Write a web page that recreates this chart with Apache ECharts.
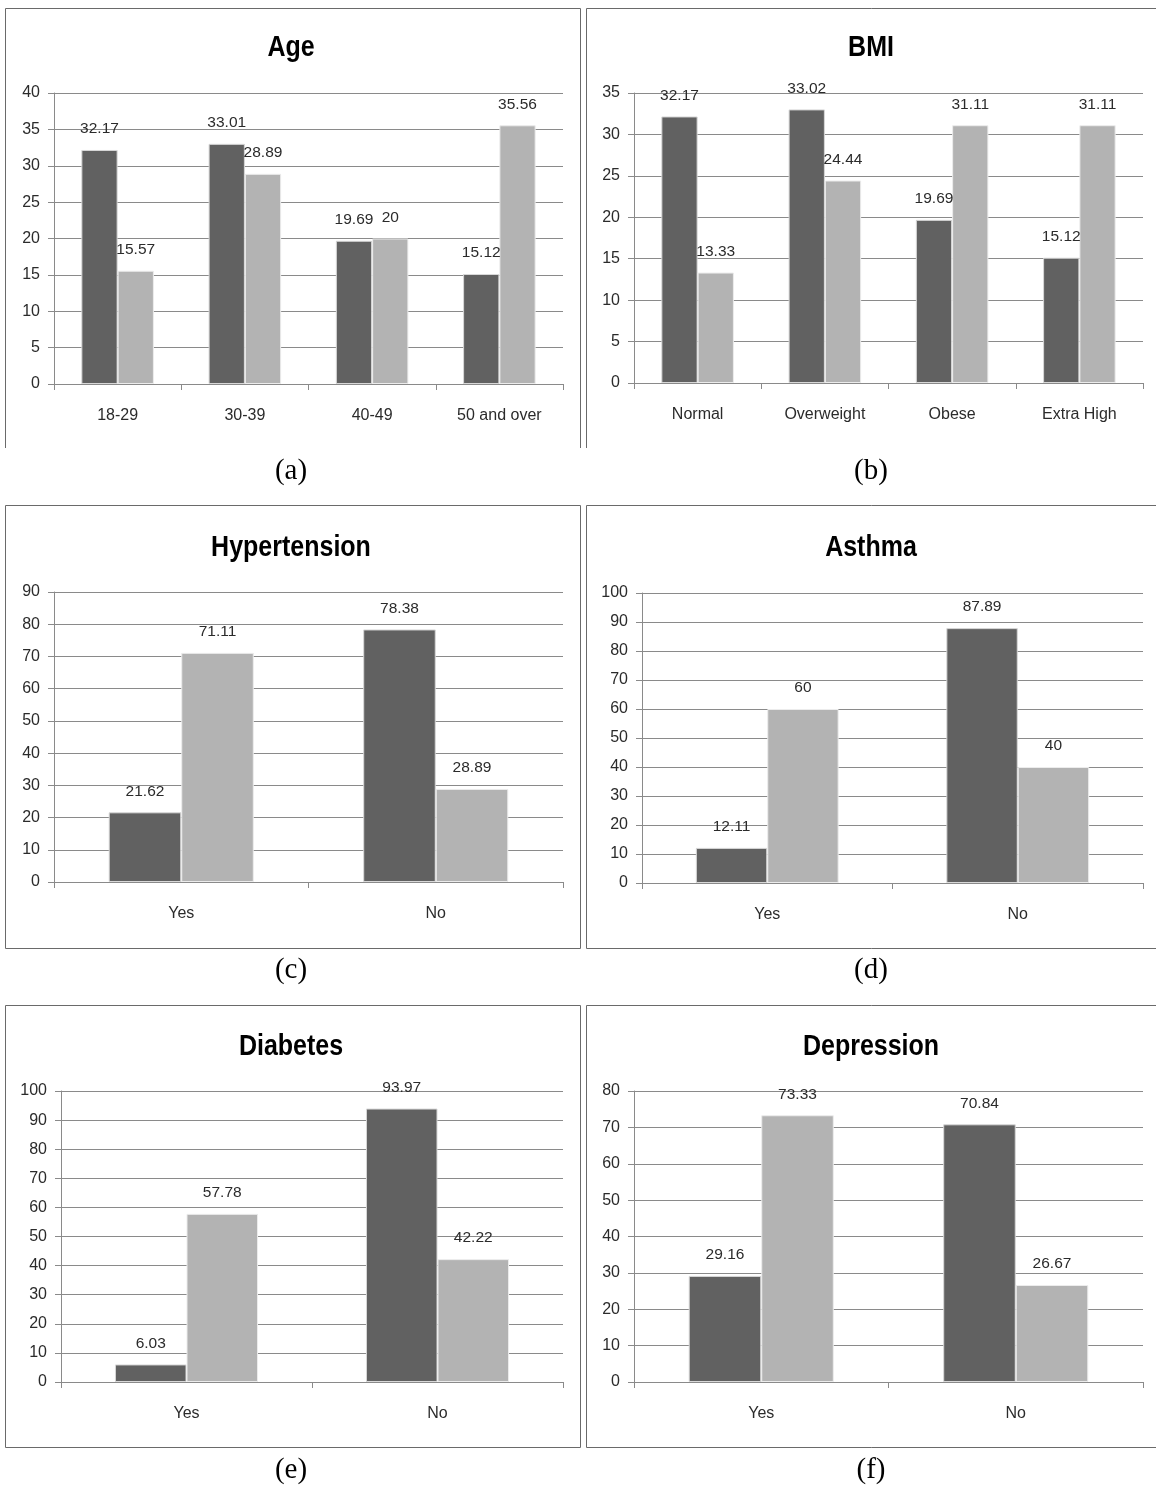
<!DOCTYPE html>
<html>
<head>
<meta charset="utf-8">
<script src="https://cdn.jsdelivr.net/npm/echarts@6/dist/echarts.min.js"></script>
<style>
  html, body { margin: 0; padding: 0; background: #fff; }
  #chart { width: 1156px; height: 1485px; }
</style>
</head>
<body>
<div id="chart"></div>
<script>
// ---- data ----
const ageCats = ['18-29', '30-39', '40-49', '50 and over'];
const ageDark = [32.17, 33.01, 19.69, 15.12];
const ageLight = [15.57, 28.89, 20, 35.56];

const bmiCats = ['Normal', 'Overweight', 'Obese', 'Extra High'];
const bmiDark = [32.17, 33.02, 19.69, 15.12];
const bmiLight = [13.33, 24.44, 31.11, 31.11];

const ynCats = ['Yes', 'No'];
const hyperDark = [21.62, 78.38];
const hyperLight = [71.11, 28.89];
const asthmaDark = [12.11, 87.89];
const asthmaLight = [60, 40];
const diabDark = [6.03, 93.97];
const diabLight = [57.78, 42.22];
const depDark = [29.16, 70.84];
const depLight = [73.33, 26.67];

const titles = ['Age', 'BMI', 'Hypertension', 'Asthma', 'Diabetes', 'Depression'];
const captions = ['(a)', '(b)', '(c)', '(d)', '(e)', '(f)'];
const yMax = [40, 35, 90, 100, 100, 80];
const yStep = [5, 5, 10, 10, 10, 10];

// ---- layout ----
const panels = [
  { cats: ageCats, dark: ageDark, light: ageLight, grid: { left: 54, top: 93, width: 509, height: 291 }, cx: 291, ty: 48, cy: 471 },
  { cats: bmiCats, dark: bmiDark, light: bmiLight, grid: { left: 634, top: 93, width: 509, height: 290 }, cx: 871, ty: 48, cy: 471 },
  { cats: ynCats, dark: hyperDark, light: hyperLight, grid: { left: 54, top: 592, width: 509, height: 290 }, cx: 291, ty: 548, cy: 970 },
  { cats: ynCats, dark: asthmaDark, light: asthmaLight, grid: { left: 642, top: 593, width: 501, height: 290 }, cx: 871, ty: 548, cy: 970 },
  { cats: ynCats, dark: diabDark, light: diabLight, grid: { left: 61, top: 1091, width: 502, height: 291 }, cx: 291, ty: 1047, cy: 1470 },
  { cats: ynCats, dark: depDark, light: depLight, grid: { left: 634, top: 1091, width: 509, height: 291 }, cx: 871, ty: 1047, cy: 1470 }
];

const FONT = '"Liberation Sans", Arial, sans-serif';
const GRAY = '#8a8a8a';
const TXT = '#2b2b2b';

const grids = [], xAxes = [], yAxes = [], series = [], graphics = [];

panels.forEach((p, i) => {
  grids.push(Object.assign({ containLabel: false }, p.grid));
  xAxes.push({
    type: 'category', gridIndex: i, data: p.cats,
    axisLine: { lineStyle: { color: GRAY, width: 1 } },
    axisTick: { show: true, length: 6, lineStyle: { color: GRAY } },
    axisLabel: { color: TXT, fontFamily: FONT, fontSize: 16, margin: 24 },
    splitLine: { show: false }
  });
  yAxes.push({
    type: 'value', gridIndex: i, min: 0, max: yMax[i], interval: yStep[i],
    axisLine: { show: true, lineStyle: { color: GRAY, width: 1 } },
    axisTick: { show: true, length: 6, lineStyle: { color: GRAY } },
    axisLabel: { color: TXT, fontFamily: FONT, fontSize: 16, margin: 14 },
    splitLine: { show: true, lineStyle: { color: GRAY, width: 1 } }
  });
  const lbl = { show: true, position: 'top', distance: 13, color: TXT, fontFamily: FONT, fontSize: 15.5 };
  series.push({
    type: 'bar', xAxisIndex: i, yAxisIndex: i, data: p.dark,
    barCategoryGap: '43%', barGap: '0%',
    itemStyle: { color: '#616161', borderColor: '#d8d8d8', borderWidth: 1 },
    label: lbl
  });
  series.push({
    type: 'bar', xAxisIndex: i, yAxisIndex: i, data: p.light,
    barCategoryGap: '43%', barGap: '0%',
    itemStyle: { color: '#b3b3b3', borderColor: '#ececec', borderWidth: 1 },
    label: lbl
  });
  graphics.push({
    type: 'text', x: p.cx, y: p.ty, scaleY: 1.2,
    style: { text: titles[i], fill: '#000', font: 'bold 25px ' + FONT, textAlign: 'center', textVerticalAlign: 'middle' }
  });
  graphics.push({
    type: 'text', x: p.cx, y: p.cy,
    style: { text: captions[i], fill: '#000', font: '29px "Liberation Serif", "Times New Roman", serif', textAlign: 'center', textVerticalAlign: 'middle' }
  });
});

// panel frames
const frame = (pts) => ({ type: 'polyline', shape: { points: pts }, style: { stroke: '#6a6a6a', lineWidth: 1, fill: null }, silent: true });
graphics.push(frame([[5.5, 448], [5.5, 8.5], [580.5, 8.5], [580.5, 448]]));
graphics.push(frame([[586.5, 448], [586.5, 8.5], [1156, 8.5]]));
graphics.push(frame([[5.5, 948.5], [5.5, 505.5], [580.5, 505.5], [580.5, 948.5], [5.5, 948.5]]));
graphics.push(frame([[1156, 948.5], [586.5, 948.5], [586.5, 505.5], [1156, 505.5]]));
graphics.push(frame([[5.5, 1447.5], [5.5, 1005.5], [580.5, 1005.5], [580.5, 1447.5], [5.5, 1447.5]]));
graphics.push(frame([[1156, 1447.5], [586.5, 1447.5], [586.5, 1005.5], [1156, 1005.5]]));

const chart = echarts.init(document.getElementById('chart'), null, { renderer: 'canvas' });
chart.setOption({
  backgroundColor: '#fff',
  animation: false,
  grid: grids,
  xAxis: xAxes,
  yAxis: yAxes,
  series: series,
  graphic: graphics
});
</script>
</body>
</html>
